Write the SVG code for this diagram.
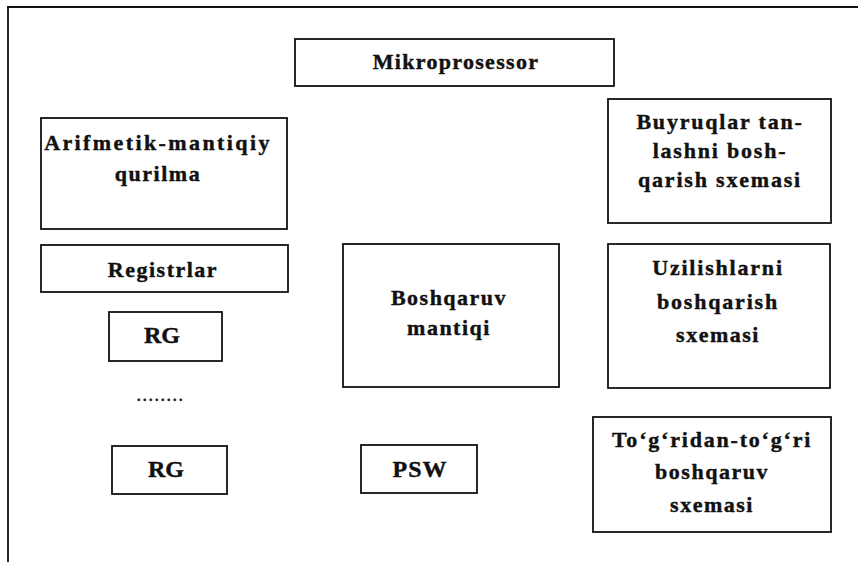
<svg xmlns="http://www.w3.org/2000/svg" width="858" height="562" viewBox="0 0 858 562">
<style>
.b{fill:#fff;stroke:#111;stroke-width:1.8}
.t{font-family:"Liberation Serif","Times New Roman",serif;font-weight:bold;font-size:22px;fill:#111;stroke:#111;stroke-width:0.4;text-anchor:middle;letter-spacing:1.5px}
.f{fill:none;stroke:#111;stroke-width:1.8}
</style>
<rect width="858" height="562" fill="#fff"/>
<g id="frame"><path class="f" d="M7 7H858M8 7V562"/></g>
<g id="mikroprosessor"><rect class="b" x="295" y="39" width="319" height="47"/><text class="t" x="456" y="69" style="letter-spacing:1.3px">Mikroprosessor</text></g>
<g id="alu"><rect class="b" x="41" y="118" width="246" height="111"/><text class="t" x="158" y="150" style="letter-spacing:2.4px">Arifmetik-mantiqiy</text><text class="t" x="158" y="181">qurilma</text></g>
<g id="registrlar"><rect class="b" x="41" y="245" width="247" height="47"/><text class="t" x="163" y="277">Registrlar</text></g>
<g id="rg1"><rect class="b" x="109" y="312" width="113" height="49"/><text class="t" x="162" y="343" style="font-size:24px;letter-spacing:0">RG</text></g>
<g id="dots"><text class="t" x="161" y="401" style="font-size:14px;letter-spacing:2.5px">........</text></g>
<g id="rg2"><rect class="b" x="112" y="446" width="115" height="48"/><text class="t" x="166" y="477" style="font-size:24px;letter-spacing:0">RG</text></g>
<g id="boshqaruv"><rect class="b" x="343" y="244" width="216" height="143"/><text class="t" x="449" y="305">Boshqaruv</text><text class="t" x="449" y="335">mantiqi</text></g>
<g id="psw"><rect class="b" x="361" y="445" width="116" height="48"/><text class="t" x="420" y="477" style="font-size:24px;letter-spacing:1px">PSW</text></g>
<g id="buyruqlar"><rect class="b" x="608" y="99" width="223" height="124"/><text class="t" x="720" y="129" style="letter-spacing:1.8px">Buyruqlar tan-</text><text class="t" x="720" y="158" style="letter-spacing:1.8px">lashni bosh-</text><text class="t" x="720" y="187" style="letter-spacing:1.8px">qarish sxemasi</text></g>
<g id="uzilishlar"><rect class="b" x="608" y="244" width="222" height="144"/><text class="t" x="718" y="275" style="letter-spacing:1.8px">Uzilishlarni</text><text class="t" x="718" y="309" style="letter-spacing:1.8px">boshqarish</text><text class="t" x="718" y="342">sxemasi</text></g>
<g id="togridan"><rect class="b" x="593" y="417" width="238" height="115"/><text class="t" x="712" y="447" style="letter-spacing:1.8px">To‘g‘ridan-to‘g‘ri</text><text class="t" x="712" y="479">boshqaruv</text><text class="t" x="712" y="512">sxemasi</text></g>
</svg>
